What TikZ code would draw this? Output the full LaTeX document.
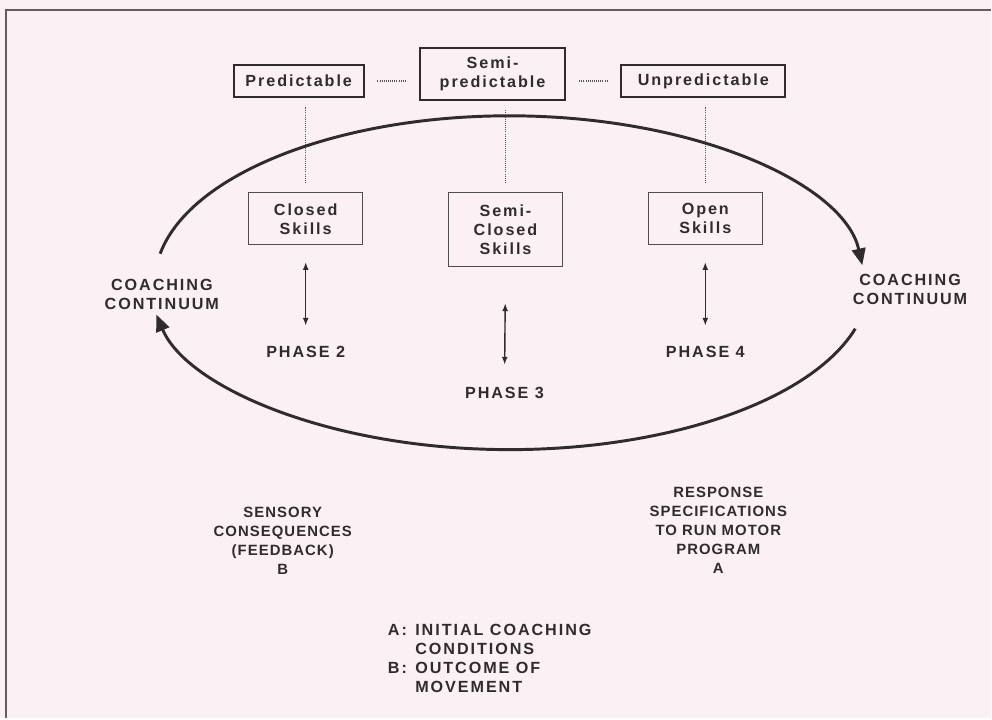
\documentclass[tikz,border=0pt]{standalone}
\usepackage{fontspec}
\setmainfont{Liberation Sans}[LetterSpace=12]
\usetikzlibrary{arrows.meta, positioning, calc}
\definecolor{paper}{RGB}{251,240,243}
\definecolor{ink}{RGB}{48,44,46}
\definecolor{framecol}{RGB}{105,90,95}

\begin{document}
\begin{tikzpicture}[
    x=0.025cm, y=0.025cm,
    font=\fontsize{11.5}{13.5}\selectfont\bfseries,
    txt/.style={text=ink, align=center, inner sep=0pt},
    small/.style={font=\fontsize{10.6}{13.5}\selectfont\bfseries\addfontfeature{LetterSpace=7}},
    cond/.style={draw=ink, line width=1.4pt, text=ink, align=center,
                 minimum height=0.8cm},
    skill/.style={draw=ink!85, line width=0.9pt, text=ink, align=center,
                  minimum width=2.85cm, minimum height=1.3cm},
    vdots/.style={ink!80, line width=1pt, dash pattern=on 0.7pt off 0.8pt,
                  shorten <=0.23cm, shorten >=0.23cm},
    hdots/.style={ink!80, line width=1pt, dash pattern=on 0.7pt off 0.8pt,
                  shorten <=0.32cm, shorten >=0.32cm},
    dbl/.style={{Latex[length=5.5pt, width=4.2pt]}-{Latex[length=5.5pt, width=4.2pt]},
                ink, line width=1pt},
    loop/.style={-{Triangle[length=0.42cm, width=0.34cm]}, ink, line width=2.1pt},
  ]
  % Paper and frame
  \fill[paper] (0,0) rectangle (992,719);
  \draw[framecol, line width=1.4pt] (6,0) -- (6,709) -- (992,709);

  % Row 1: predictability
  \node[cond, minimum width=3.25cm] (pred) at (299,638) {Predictable};
  \node[cond, minimum width=3.65cm, minimum height=1.3cm] (semipred) at (493,645)
       {Semi-\\predictable};
  \node[cond, minimum width=4.1cm] (unpred) at (704,638) {Unpredictable};

  % Row 2: skills
  \node[skill] (closed) at (306,500) {Closed\\Skills};
  \node[skill, minimum height=1.85cm] (semiclosed) at (506,489)
       {Semi-\\Closed\\Skills};
  \node[skill] (open) at (706,500) {Open\\Skills};

  % Row 3: phases
  \node[txt] (phase2) at (306,367) {PHASE 2};
  \node[txt] (phase3) at (505,326) {PHASE 3};
  \node[txt] (phase4) at (706,367) {PHASE 4};

  % Dotted links
  \draw[hdots] (pred.east) -- (pred.east -| semipred.west);
  \draw[hdots] (unpred.west -| semipred.east) -- (unpred.west);
  \draw[vdots] (closed.north) -- (closed.north |- pred.south);
  \draw[vdots] (semiclosed.north) -- (semiclosed.north |- semipred.south);
  \draw[vdots] (open.north) -- (open.north |- unpred.south);

  % Phase arrows
  \draw[dbl, shorten <=0.42cm, shorten >=0.5cm] (closed.south) -- (phase2.north);
  \draw[dbl, shorten <=0.9cm, shorten >=0.55cm] (semiclosed.south) -- (phase3.north);
  \draw[dbl, shorten <=0.42cm, shorten >=0.5cm] (open.south) -- (phase4.north);

  % Coaching continuum loop
  \coordinate (ctr) at (510,436);
  \node[txt] (coachl) at (162,424) {COACHING\\CONTINUUM};
  \node[txt] (coachr) at (911,429) {COACHING\\CONTINUUM};
  \draw[loop] ($(ctr)+(170:8.875cm and 4.175cm)$)
       arc[start angle=170, end angle=6, x radius=8.875cm, y radius=4.175cm];
  \draw[loop] ($(ctr)+(-16:9.0cm and 4.175cm)$)
       arc[start angle=-16, end angle=-169, x radius=9.0cm, y radius=4.175cm];

  % Lower labels
  \node[txt, small] (sensory) at (283,178) {SENSORY\\CONSEQUENCES\\(FEEDBACK)\\B};
  \node[txt, small] (response) at (719,188)
       {RESPONSE\\SPECIFICATIONS\\TO RUN MOTOR\\PROGRAM\\A};
  \node[txt, anchor=west] (legend) at (388,58)
       {\begin{tabular}{@{}l@{\hspace{6pt}}l@{}}
          A: & INITIAL COACHING\\
             & CONDITIONS\\
          B: & OUTCOME OF\\
             & MOVEMENT
        \end{tabular}};
\end{tikzpicture}
\end{document}
